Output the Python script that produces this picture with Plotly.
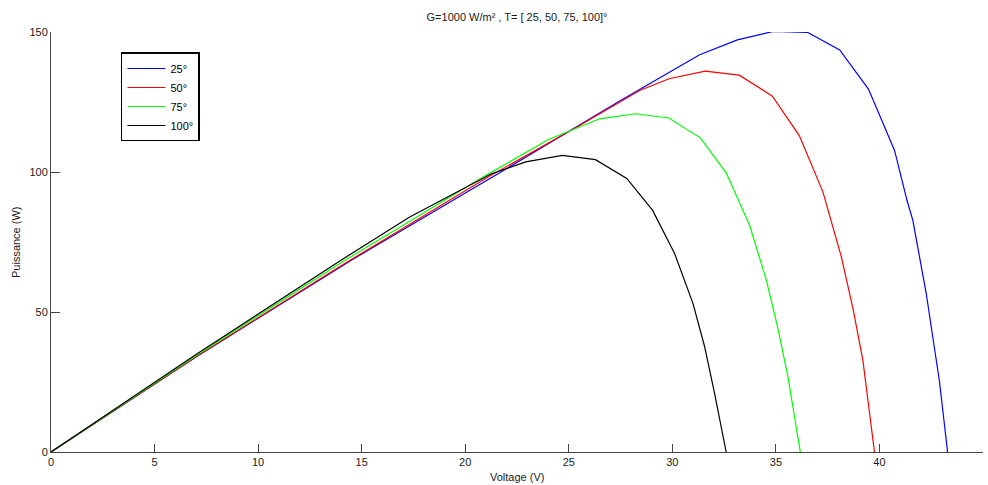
import plotly.graph_objects as go

# Data (Voltage V, Power W)
v25 = [0, 7.0, 14.5, 21.5, 27.5, 31.32, 33.14, 34.86, 36.52, 38.08, 39.47, 40.73, 41.33, 41.61, 42.26, 42.9, 43.29]
p25 = [0, 33.9, 68.5, 99.0, 125.5, 141.9, 147.2, 150.2, 149.9, 143.6, 129.6, 107.7, 89.9, 82.8, 56.6, 25.1, 0]

v50 = [0, 7.0, 14.0, 21.0, 25.5, 28.42, 29.84, 31.58, 33.23, 34.83, 36.13, 37.27, 38.16, 38.72, 39.20, 39.76]
p50 = [0, 34.0, 66.5, 97.8, 116.5, 129.1, 133.3, 136.0, 134.6, 127.1, 113.0, 92.9, 69.7, 51.3, 32.8, 0]

v75 = [0, 7.0, 14.0, 21.0, 24.0, 26.49, 28.22, 29.83, 31.35, 32.6, 33.73, 34.54, 35.10, 35.58, 36.18]
p75 = [0, 34.4, 67.6, 98.8, 111.5, 119.0, 120.8, 119.3, 112.2, 99.7, 81.0, 61.4, 44.1, 26.9, 0]

v100 = [0, 7.0, 14.0, 17.32, 21.27, 22.92, 24.69, 26.29, 27.8, 29.05, 30.11, 31.0, 31.56, 32.04, 32.6]
p100 = [0, 34.8, 68.5, 83.9, 99.4, 103.6, 105.9, 104.4, 97.7, 86.3, 70.9, 53.0, 37.6, 20.9, 0]

names = ["25°", "50°", "75°", "100°"]
colors = ["#0000FF", "#FF0000", "#00FF00", "#000000"]
series = [(v25, p25), (v50, p50), (v75, p75), (v100, p100)]

x_ticks = [0, 5, 10, 15, 20, 25, 30, 35, 40, 45]
y_ticks = [0, 50, 100, 150]

fig = go.Figure()
for (v, p), n, c in zip(series, names, colors):
    fig.add_trace(go.Scatter(x=v, y=p, mode="lines", name=n,
                             line=dict(color=c, width=1.2)))

font = "Liberation Sans, Arial, sans-serif"
W, H = 988, 485
L, R, T, B = 51, 4.5, 31.5, 33
pw = W - L - R
ph = H - T - B

fig.update_layout(
    width=W, height=H,
    margin=dict(l=L, r=R, t=T, b=B, autoexpand=False),
    paper_bgcolor="white", plot_bgcolor="white",
    font=dict(family=font, size=11, color="#1a1a1a"),
    title=dict(text="G=1000 W/m² , T= [ 25, 50, 75, 100]°", x=0.5, xanchor="center",
               xref="paper", yref="container", y=1 - 17 / H, yanchor="middle",
               font=dict(size=11, color="#1a1a1a"), automargin=False),
    showlegend=True,
    legend=dict(x=(121 - L) / pw, y=(H - B - 52) / ph, xanchor="left", yanchor="top",
                bordercolor="#000", borderwidth=1.5, bgcolor="white",
                itemwidth=38,
                font=dict(size=11, color="#000"), tracegroupgap=0),
    xaxis=dict(range=[0, 45], tickvals=x_ticks, ticks="inside", ticklen=8, tickcolor="#444",
               showline=True, linecolor="#444", linewidth=1, showgrid=False, zeroline=False,
               automargin=False, tickfont=dict(size=11)),
    yaxis=dict(range=[0, 150], tickvals=y_ticks, ticks="inside", ticklen=9, tickcolor="#444",
               showline=True, linecolor="#444", linewidth=1, showgrid=False, zeroline=False,
               automargin=False, tickfont=dict(size=11)),
    annotations=[
        dict(text="Voltage (V)", xref="paper", yref="paper", x=0.5,
             y=-(477 - (H - B)) / ph, xanchor="center", yanchor="middle",
             showarrow=False, font=dict(size=11, color="#1a1a1a")),
        dict(text="Puissance (W)", xref="paper", yref="paper", x=-(L - 16) / pw,
             y=0.5, xanchor="center", yanchor="middle", textangle=-90,
             showarrow=False, font=dict(size=11, color="#1a1a1a")),
    ],
)

fig.write_html("out.html", config={"displayModeBar": False},
               post_script="document.body.style.margin='0';document.body.style.padding='0';document.body.style.overflow='hidden';")
